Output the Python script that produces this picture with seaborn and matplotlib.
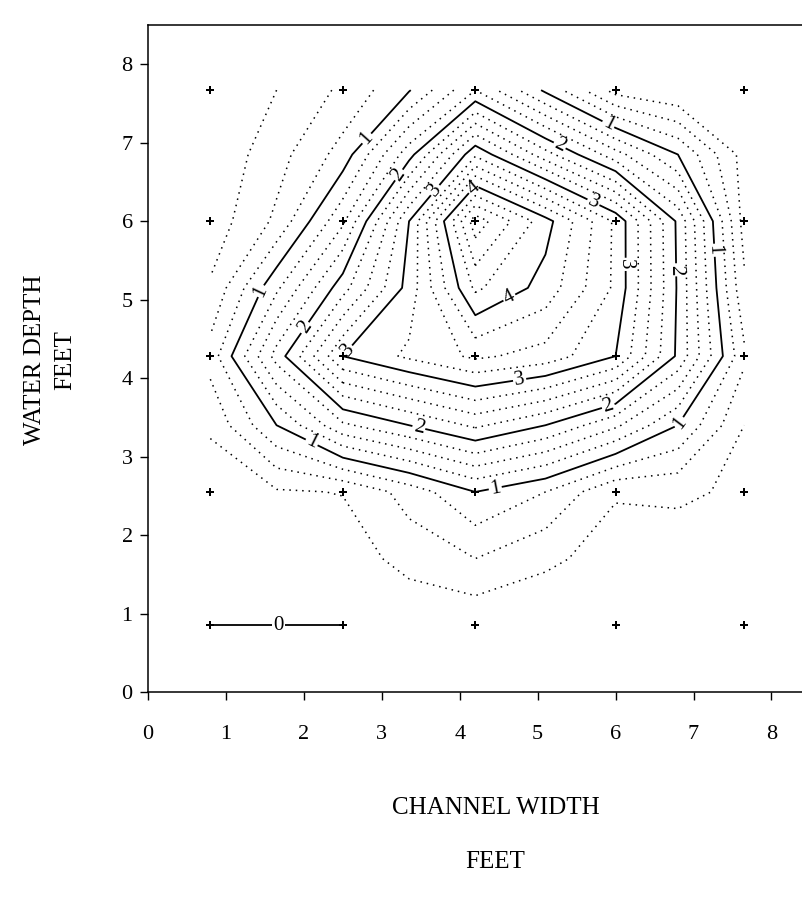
import numpy as np
import matplotlib
matplotlib.use("Agg")
import matplotlib.pyplot as plt
import seaborn as sns

# grid node positions (feet); every second node is a measuring point
grid_x = [0.8, 1.65, 2.5, 3.35, 4.2, 5.1, 6.0, 6.8, 7.65]
grid_y = [0.85, 1.7, 2.55, 3.4, 4.28, 5.15, 6.0, 6.85, 7.67]

# values, one list per depth row (bottom to top)
row_085 = [0.0, 0.0, 0.0, 0.02, 0.05, 0.05, 0.03, 0.02, 0.02]
row_170 = [0.02, 0.05, 0.1, 0.35, 0.5, 0.3, 0.15, 0.1, 0.05]
row_255 = [0.05, 0.22, 0.26, 0.6, 1.0, 0.75, 0.27, 0.3, 0.2]
row_340 = [0.3, 1.0, 1.7, 2.0, 2.3, 2.0, 1.55, 1.0, 0.25]
row_428 = [0.6, 1.85, 3.0, 3.3, 3.55, 3.4, 3.0, 1.95, 0.55]
row_515 = [0.28, 1.2, 2.15, 3.1, 4.3, 3.9, 3.2, 1.97, 0.3]
row_600 = [0.1, 0.55, 1.45, 3.0, 4.9, 4.1, 3.2, 1.95, 0.15]
row_685 = [0.05, 0.4, 0.85, 1.9, 3.2, 2.35, 1.6, 1.0, 0.15]
row_767 = [0.05, 0.25, 0.55, 0.98, 1.75, 0.95, 0.15, 0.01, 0.01]

major_levels = [0, 1, 2, 3, 4]
minor_levels = [0.25, 0.5, 0.75, 1.25, 1.5, 1.75, 2.25, 2.5, 2.75,
                3.25, 3.5, 3.75, 4.25, 4.5, 4.75]

ticks = [0, 1, 2, 3, 4, 5, 6, 7, 8]

sns.set_style("ticks")
plt.rcParams["font.family"] = ["Liberation Serif", "DejaVu Serif"]
plt.rcParams["text.color"] = "black"

Z = np.array([row_085, row_170, row_255, row_340, row_428,
              row_515, row_600, row_685, row_767])
X, Y = np.meshgrid(grid_x, grid_y)

fig = plt.figure(figsize=(8.02, 8.97), dpi=100)
ax = fig.add_axes([0.1845, 0.2285, 0.826, 0.7436])

ax.contour(X, Y, Z, levels=minor_levels, colors="black",
           linewidths=1.1, linestyles=[(0, (1, 3.2))])
cs = ax.contour(X, Y, Z, levels=major_levels, colors="black",
                linewidths=1.3, linestyles="solid")

label_pos = [(1.68, 0.87), (2.79, 7.07), (1.47, 5.1), (2.11, 3.2),
             (4.45, 2.63), (6.81, 3.44), (7.27, 5.63), (5.93, 7.28),
             (3.29, 6.54), (5.29, 6.98), (6.76, 5.38), (5.91, 3.63),
             (3.48, 3.39), (1.99, 4.66), (3.68, 6.4), (5.73, 6.27),
             (6.14, 5.45), (4.77, 3.97), (2.45, 4.45), (4.21, 6.39),
             (4.63, 5.04)]
ax.clabel(cs, levels=major_levels, manual=label_pos, inline=True,
          inline_spacing=3, fmt="%d", fontsize=15)

# measuring points
sns.scatterplot(x=X[::2, ::2].ravel(), y=Y[::2, ::2].ravel(), marker="P",
                s=30, color="black", linewidth=0, ax=ax, zorder=5)

ax.set_xlim(0, 8.5)
ax.set_ylim(0, 8.5)
ax.set_xticks(ticks)
ax.set_yticks(ticks)
ax.tick_params(axis="both", direction="out", length=6, width=1,
               labelsize=16, colors="black")
ax.tick_params(axis="x", pad=18)
ax.tick_params(axis="y", pad=5)
for side in ["left", "bottom", "top", "right"]:
    ax.spines[side].set_visible(True)
    ax.spines[side].set_linewidth(1.1)
    ax.spines[side].set_color("black")

fig.text(0.618, 0.099, "CHANNEL WIDTH", ha="center", va="center",
         fontsize=18, color="black")
fig.text(0.618, 0.039, "FEET", ha="center", va="center",
         fontsize=18, color="black")
fig.text(0.044, 0.599, "WATER DEPTH", ha="center", va="center",
         rotation=90, fontsize=18, color="black")
fig.text(0.081, 0.599, "FEET", ha="center", va="center",
         rotation=90, fontsize=18, color="black")

fig.savefig("out.png", dpi=100, facecolor="white")
